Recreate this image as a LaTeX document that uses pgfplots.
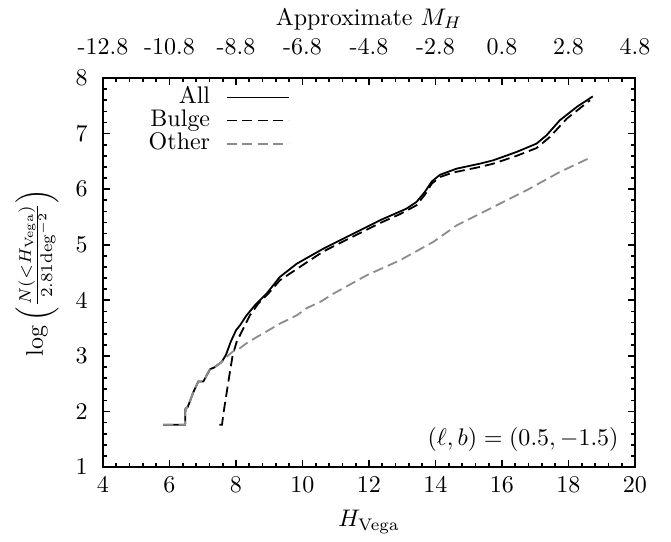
\documentclass[border=0pt]{standalone}
\usepackage{pgfplots}
\pgfplotsset{compat=1.18}
\definecolor{othergray}{RGB}{140,140,140}

\begin{document}
\begin{tikzpicture}
\pgfplotsset{
  box/.style={
    width=221.7pt, height=162.1pt, scale only axis,
    xmin=4, xmax=20, ymin=1, ymax=8,
    axis line style={line width=1pt},
    tick style={line width=0.7pt, black},
    major tick length=3pt, minor tick length=1.8pt,
  },
}
\begin{axis}[box,
  xtick={4,6,...,20}, ytick={1,...,8},
  minor x tick num=4, minor y tick num=4,
  xticklabel shift=0.6pt, yticklabel shift=2.9pt,
  xlabel={$H_{\rm Vega}$},
  xlabel style={at={(axis description cs:0.5,-0.141)}, anchor=center},
  ylabel={$\log\left(\frac{N(<H_{\rm Vega})}{2.81{\rm deg}^{-2}}\right)$},
  ylabel style={at={(axis description cs:-0.124,0.5)}, anchor=center},
  legend style={at={(0.365,0.993)}, anchor=north east, draw=none, fill=none,
    legend cell align=right, row sep=0pt, column sep=0pt,
    nodes={inner sep=0.3pt, text height=7pt, text depth=2pt}},
  legend plot pos=right,
  legend image code/.code={\path (0pt,0pt); \draw[#1] (6.2pt,0pt) -- (32pt,0pt);},
]
% all stars
\addplot[black, line width=0.75pt] coordinates {
(5.81,1.76)(6.47,1.76)(6.48,2.05)(6.55,2.08)(6.72,2.35)(6.87,2.54)(7.02,2.54)
(7.22,2.76)(7.34,2.79)(7.57,2.89)(7.70,3.02)(7.84,3.25)(8.00,3.46)(8.12,3.55)
(8.32,3.73)(8.57,3.91)(8.92,4.12)(9.32,4.42)(9.83,4.66)(10.63,4.93)(11.43,5.17)
(12.33,5.44)(13.13,5.65)(13.43,5.77)(13.68,5.95)(13.89,6.14)(14.14,6.26)
(14.64,6.37)(15.34,6.46)(15.74,6.52)(16.44,6.67)(17.04,6.82)(17.34,6.97)
(17.74,7.24)(18.25,7.48)(18.73,7.67)
};
\addlegendentry{All}
% bulge
\addplot[black, line width=0.75pt, dash pattern=on 4.3pt off 2.15pt] coordinates {
(7.50,1.76)(7.58,1.76)(7.62,1.95)(7.77,2.53)(7.90,3.01)(8.02,3.25)(8.22,3.49)
(8.42,3.73)(8.67,3.94)(8.97,4.12)(9.32,4.36)(10.02,4.64)(10.63,4.88)(11.43,5.12)
(12.33,5.39)(12.93,5.55)(13.43,5.71)(13.68,5.90)(13.89,6.10)(14.14,6.22)
(14.53,6.30)(15.34,6.40)(15.74,6.46)(16.44,6.60)(17.04,6.74)(17.44,6.94)
(17.95,7.27)(18.65,7.60)
};
\addlegendentry{Bulge}
% other
\addplot[othergray, line width=0.75pt, dash pattern=on 4.3pt off 2.15pt] coordinates {
(5.81,1.76)(6.47,1.76)(6.48,2.05)(6.55,2.08)(6.72,2.35)(6.87,2.54)(7.02,2.54)
(7.22,2.76)(7.34,2.79)(7.57,2.89)(7.75,3.00)(7.95,3.10)(8.10,3.13)(8.30,3.22)
(8.60,3.33)(8.92,3.44)(9.32,3.58)(9.83,3.73)(10.13,3.86)(10.53,3.97)(10.93,4.12)
(11.93,4.45)(12.93,4.72)(13.93,5.05)(14.64,5.35)(15.34,5.56)(15.74,5.68)
(16.74,5.98)(17.74,6.31)(18.70,6.58)
};
\addlegendentry{Other}
\node[anchor=east] at (rel axis cs:0.985,0.072) {$(\ell,b)=(0.5,-1.5)$};
\end{axis}
% top axis: approximate absolute magnitude
\begin{axis}[box,
  hide y axis,
  axis line style={draw=none},
  major tick length=0pt, minor x tick num=0,
  xtick={4,6,...,20},
  xticklabels={-12.8,-10.8,-8.8,-6.8,-4.8,-2.8,0.8,2.8,4.8},
  xticklabel pos=upper, xticklabel shift=6.2pt,
  xlabel={Approximate $M_H$},
  xlabel style={at={(axis description cs:0.5,1.152)}, anchor=center},
]
\end{axis}
\path (-42.9pt,-28.75pt) rectangle (236.7pt,193.75pt);
\end{tikzpicture}
\end{document}
